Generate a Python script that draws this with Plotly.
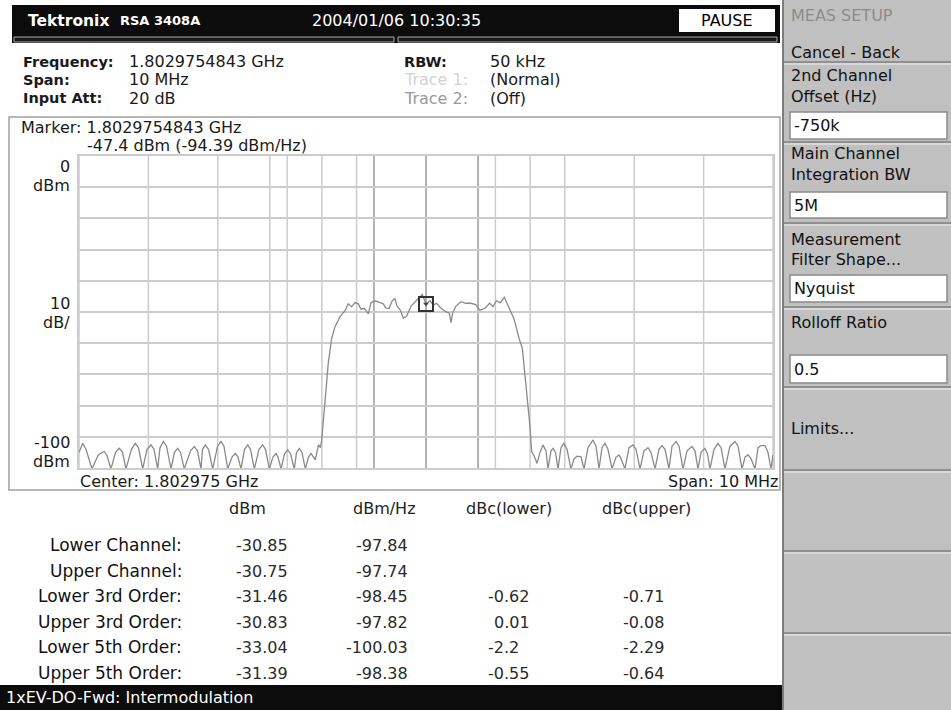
import plotly.graph_objects as go

W, H = 951, 710

# ---------------- data ----------------
center_ghz = 1.802975
span_mhz = 10
ref_level_dbm = 0
bottom_level_dbm = -100

freq_offset_mhz = [
    -5.000, -4.947, -4.899, -4.813,
    -4.726, -4.683, -4.635, -4.597, -4.539,
    -4.474, -4.419, -4.373, -4.323,
    -4.244, -4.189, -4.143, -4.082,
    -4.020, -3.963, -3.919, -3.866,
    -3.833, -3.785, -3.739, -3.674,
    -3.624, -3.578, -3.537, -3.483,
    -3.393, -3.339, -3.293, -3.242,
    -3.220, -3.180, -3.134, -3.073,
    -3.004, -2.954, -2.911, -2.857,
    -2.795, -2.748, -2.709, -2.666,
    -2.615, -2.569, -2.529, -2.474,
    -2.406, -2.353, -2.313, -2.258,
    -2.205, -2.161, -2.133, -2.089,
    -2.039, -1.993, -1.952, -1.898,
    -1.866, -1.826, -1.787, -1.739,
    -1.693, -1.657, -1.628, -1.595,
    -1.549, -1.520,
    -1.503, -1.480, -1.455, -1.431, -1.408, -1.359, -1.311, -1.239, -1.167, -1.120,
    -1.071, -1.023, -0.976, -0.937, -0.889, -0.854, -0.831, -0.793, -0.735, -0.663,
    -0.615, -0.581, -0.533, -0.486, -0.447, -0.418, -0.370, -0.327, -0.278, -0.216,
    -0.159, -0.101, -0.053, 0.000, 0.058, 0.105, 0.154, 0.216, 0.284, 0.336,
    0.360, 0.385, 0.432, 0.504, 0.572, 0.648, 0.716, 0.778, 0.850, 0.918,
    0.965, 1.013, 1.071, 1.128, 1.167, 1.215, 1.264, 1.293, 1.340, 1.388,
    1.427, 1.465, 1.494, 1.523,
    1.556, 1.599, 1.643, 1.686, 1.729, 1.758,
    1.801, 1.830, 1.866, 1.902,
    1.945, 1.988, 2.032, 2.089,
    2.133, 2.176, 2.233, 2.277,
    2.334, 2.406, 2.450, 2.493,
    2.536, 2.579, 2.622, 2.680,
    2.738, 2.781, 2.810, 2.867,
    2.925, 2.983, 3.026, 3.084,
    3.141, 3.199, 3.242, 3.300,
    3.357, 3.401, 3.444, 3.501,
    3.545, 3.602, 3.646, 3.703,
    3.761, 3.833, 3.876, 3.919,
    3.963, 4.020, 4.056, 4.092,
    4.150, 4.207, 4.251, 4.308,
    4.380, 4.452, 4.496, 4.553,
    4.597, 4.640, 4.683, 4.741,
    4.784, 4.827, 4.885, 4.928, 4.971, 5.000,
]

level_dbm = [
    -95.0, -92.1, -94.0, -100.3,
    -96.0, -95.2, -94.7, -96.0, -100.3,
    -95.0, -93.7, -95.0, -100.3,
    -94.0, -92.1, -93.5, -100.3,
    -94.0, -92.6, -94.0, -100.3,
    -93.5, -91.5, -93.0, -100.3,
    -95.0, -93.7, -95.0, -100.3,
    -94.5, -93.1, -94.5, -100.3,
    -94.0, -92.6, -94.0, -100.3,
    -93.0, -91.5, -93.0, -100.3,
    -96.5, -95.3, -96.5, -100.3,
    -94.0, -92.6, -94.0, -100.3,
    -94.0, -92.6, -94.0, -100.3,
    -96.5, -95.3, -96.5, -100.3,
    -95.5, -94.2, -95.5, -100.3,
    -95.0, -93.7, -95.0, -100.3,
    -96.5, -95.3, -96.5, -97.4,
    -92.5, -93.5,
    -91.0, -84.6, -77.1, -70.7, -66.4, -58.4, -54.7, -51.5, -49.6, -47.4,
    -48.3, -47.0, -47.4, -49.1, -48.8, -49.9, -50.6, -47.0, -46.4, -47.0,
    -47.4, -48.7, -48.9, -46.4, -45.7, -48.1, -49.4, -52.0, -51.3, -48.1,
    -46.7, -45.6, -44.4, -47.4, -46.4, -47.8, -47.2, -48.8, -49.9, -50.4,
    -53.4, -50.2, -48.1, -46.7, -47.2, -47.2, -47.6, -49.4, -48.8, -47.2,
    -48.3, -46.4, -47.0, -45.3, -47.2, -49.9, -52.0, -54.2, -58.4, -61.6,
    -69.7, -78.2, -85.7, -94.8,
    -96.0, -98.5, -95.0, -92.6, -94.5, -100.3,
    -94.5, -93.7, -95.0, -100.3,
    -93.5, -92.1, -94.0, -100.3,
    -97.0, -96.2, -96.4, -100.3,
    -93.5, -91.0, -93.0, -100.3,
    -93.5, -92.1, -94.0, -100.3,
    -96.5, -95.8, -97.0, -100.3,
    -93.5, -92.6, -94.0, -100.3,
    -94.5, -93.5, -95.0, -100.3,
    -94.0, -92.8, -94.0, -100.3,
    -93.0, -91.5, -93.0, -100.3,
    -94.5, -93.1, -94.5, -100.3,
    -95.0, -93.7, -95.5, -100.3,
    -94.0, -92.1, -93.5, -100.3,
    -93.0, -91.5, -93.0, -100.3,
    -96.5, -95.8, -97.0, -100.3,
    -93.5, -92.8, -92.8, -95.0, -100.3, -95.8,
]
assert len(freq_offset_mhz) == len(level_dbm), (len(freq_offset_mhz), len(level_dbm))

marker_offset_mhz = [0.0]
marker_level_dbm = [-47.4]

grid_lines_mhz = [-5, -4, -3, -2, -1, 0, 1, 2, 3, 4, 5]
channel_lines_mhz = [-2.25, -1.5, -0.75, 0.75, 1.5]
strong_lines_mhz = [-0.75, 0.0, 0.75]

row_labels = ["Lower Channel:", "Upper Channel:", "Lower 3rd Order:",
              "Upper 3rd Order:", "Lower 5th Order:", "Upper 5th Order:"]
col_headers = ["dBm", "dBm/Hz", "dBc(lower)", "dBc(upper)"]
val_dbm = ["-30.85", "-30.75", "-31.46", "-30.83", "-33.04", "-31.39"]
val_dbm_hz = ["-97.84", "-97.74", "-98.45", "-97.82", "-100.03", "-98.38"]
val_dbc_lower = ["", "", "-0.62", "0.01", "-2.2", "-0.55"]
val_dbc_upper = ["", "", "-0.71", "-0.08", "-2.29", "-0.64"]

menu_title = "MEAS SETUP"
menu_items = [
    (["Cancel - Back"], None),
    (["2nd Channel", "Offset (Hz)"], "-750k"),
    (["Main Channel", "Integration BW"], "5M"),
    (["Measurement", "Filter Shape..."], "Nyquist"),
    (["Rolloff Ratio"], "0.5"),
    (["Limits..."], None),
]

# ---------------- helpers ----------------
FONT = "DejaVu Sans"


def X(px):
    return px / W


def Y(py):
    return 1 - py / H


shapes = []
annotations = []


def rect(x0, y0, x1, y1, fill=None, line=None, lw=1.0):
    shapes.append(dict(type="rect", xref="paper", yref="paper",
                       x0=X(x0), x1=X(x1), y0=Y(y1), y1=Y(y0),
                       fillcolor=fill if fill else "rgba(0,0,0,0)",
                       line=dict(color=line if line else "rgba(0,0,0,0)",
                                 width=lw if line else 0),
                       layer="above"))


def hline(x0, x1, y, color, lw=1.0):
    shapes.append(dict(type="line", xref="paper", yref="paper",
                       x0=X(x0), x1=X(x1), y0=Y(y), y1=Y(y),
                       line=dict(color=color, width=lw), layer="above"))


def vline(x, y0, y1, color, lw=1.0):
    shapes.append(dict(type="line", xref="paper", yref="paper",
                       x0=X(x), x1=X(x), y0=Y(y0), y1=Y(y1),
                       line=dict(color=color, width=lw), layer="above"))


def txt(x, y, s, size=16, color="#1a1a1a", anchor="left", bold=False, family=FONT):
    annotations.append(dict(xref="paper", yref="paper", x=X(x), y=Y(y),
                            text=("<b>%s</b>" % s) if bold else s,
                            showarrow=False, xanchor=anchor, yanchor="middle",
                            align=anchor, borderpad=0,
                            font=dict(family=family, size=size, color=color)))


# ---------------- figure ----------------
fig = go.Figure()

fig.add_trace(go.Scatter(
    x=freq_offset_mhz, y=level_dbm, mode="lines",
    line=dict(color="#8a8a8a", width=1.3), hoverinfo="skip"))

fig.add_trace(go.Scatter(
    x=marker_offset_mhz, y=marker_level_dbm, mode="markers",
    marker=dict(symbol="square-open", size=14, color="#333333",
                line=dict(width=2, color="#333333")), hoverinfo="skip"))
fig.add_trace(go.Scatter(
    x=marker_offset_mhz, y=marker_level_dbm, mode="markers",
    marker=dict(symbol="triangle-down", size=5, color="#444444"), hoverinfo="skip"))

# vertical grid + channel lines inside plot (below traces)
for f in grid_lines_mhz + channel_lines_mhz:
    strong = f in strong_lines_mhz
    shapes.append(dict(type="line", xref="x", yref="y domain", x0=f, x1=f, y0=0, y1=1,
                       line=dict(color="#ababab" if strong else "#cccccc",
                                 width=1.8 if strong else 1.5),
                       layer="below"))

# header bar
rect(12, 5, 780, 43, fill="#0c0c0c")
rect(14, 37, 394, 42, fill="#1a1a1a", line="#a8a8a8", lw=1)
rect(398, 37, 777, 42, fill="#1a1a1a", line="#a8a8a8", lw=1)
rect(679, 9, 775, 32, fill="#ffffff")
txt(27, 21, "Tektronix", size=15.5, color="#ffffff", bold=True)
txt(119, 21, "RSA 3408A", size=13, color="#ffffff", bold=True)
txt(311, 21, "2004/01/06 10:30:35", size=16, color="#ffffff")
txt(727, 21, "PAUSE", size=16, color="#000000", anchor="center")

# info area
txt(22, 62, "Frequency:", size=14.5, bold=True)
txt(128, 62, "%.10f GHz" % 1.8029754843, size=16)
txt(22, 80, "Span:", size=14.5, bold=True)
txt(128, 80, "%d MHz" % span_mhz, size=16)
txt(22, 98, "Input Att:", size=14.5, bold=True)
txt(128, 98, "20 dB", size=16)
txt(403, 62, "RBW:", size=14.5, bold=True)
txt(489, 62, "50 kHz", size=16)
txt(403, 80, "Trace 1:", size=16, color="#d2d2d2")
txt(489, 80, "(Normal)", size=16)
txt(403, 98, "Trace 2:", size=16, color="#9a9a9a")
txt(489, 98, "(Off)", size=16)

# plot box
rect(9, 117, 780, 490, line="#a0a0a0", lw=1.5)
txt(20, 128, "Marker: 1.8029754843 GHz", size=16)
txt(86, 146, "%.1f dBm (-94.39 dBm/Hz)" % marker_level_dbm[0], size=16)
txt(71, 166, "%d" % ref_level_dbm, size=16, anchor="right")
txt(71, 185, "dBm", size=16, anchor="right")
txt(71, 303, "10", size=16, anchor="right")
txt(71, 322, "dB/", size=16, anchor="right")
txt(71, 443, "%d" % bottom_level_dbm, size=16, anchor="right")
txt(71, 461, "dBm", size=16, anchor="right")
txt(79, 481, "Center: %s GHz" % ("%.6f" % center_ghz), size=16)
txt(779, 481, "Span: %d MHz" % span_mhz, size=16, anchor="right")

# table
hdr_x = [247, 384, 509, 646]
for hx, h in zip(hdr_x, col_headers):
    txt(hx, 508, h, size=16, color="#222222", anchor="center")
row_y = [545, 571, 596, 622, 647, 673]
for i, ry in enumerate(row_y):
    txt(183, ry, row_labels[i], size=17, color="#111111", anchor="right")
    txt(289, ry, val_dbm[i], size=16, color="#2a2a2a", anchor="right")
    txt(409, ry, val_dbm_hz[i], size=16, color="#2a2a2a", anchor="right")
    if val_dbc_lower[i]:
        v = val_dbc_lower[i]
        txt(487 if v.startswith("-") else 493, ry, v, size=16, color="#2a2a2a")
    if val_dbc_upper[i]:
        v = val_dbc_upper[i]
        txt(622 if v.startswith("-") else 628, ry, v, size=16, color="#2a2a2a")

# bottom status bar
rect(0, 685, 783, 710, fill="#0c0c0c")
txt(5, 697, "1xEV-DO-Fwd: Intermodulation", size=16, color="#ffffff")

# right panel
rect(782, 0, 951, 710, fill="#c0c0c0")
vline(783, 0, 710, "#7c7c7c", 2)
txt(790, 16, menu_title, size=16, color="#8c8c8c")
seps = [62, 142, 223, 307, 387, 470, 551, 633]
for sy in seps:
    hline(784, 951, sy, "#7f7f7f", 1.5)
    hline(784, 951, sy + 2, "#f0f0f0", 1)

label_y = [[52], [76, 96], [154, 174], [239, 260], [322], [428]]
box_y = [None, (112, 139), (192, 218), (275, 302), (355, 383), None]
for (labels, value), ly, by in zip(menu_items, label_y, box_y):
    for lab, yy in zip(labels, ly):
        txt(790, yy, lab, size=16, color="#111111")
    if value is not None:
        rect(790, by[0], 947, by[1], fill="#ffffff", line="#8a8a8a", lw=1.5)
        txt(793, (by[0] + by[1]) / 2, value, size=16, color="#111111")

x0d, x1d = 79 / W, 773 / W
y0d, y1d = 1 - 468 / H, 1 - 156 / H

fig.update_layout(
    width=W, height=H, autosize=False,
    margin=dict(l=0, r=0, t=0, b=0, pad=0),
    paper_bgcolor="#ffffff", plot_bgcolor="#ffffff",
    showlegend=False,
    xaxis=dict(domain=[x0d, x1d], range=[-span_mhz / 2, span_mhz / 2],
               showticklabels=False, ticks="", showgrid=False,
               zeroline=False, showline=True, linecolor="#cccccc",
               linewidth=1.5, mirror=True, fixedrange=True),
    yaxis=dict(domain=[y0d, y1d], range=[bottom_level_dbm, ref_level_dbm],
               dtick=10, showticklabels=False, ticks="",
               showgrid=True, gridcolor="#cccccc", gridwidth=1.5,
               zeroline=False, showline=True, linecolor="#cccccc",
               linewidth=1.5, mirror=True, fixedrange=True),
    shapes=shapes,
    annotations=annotations,
)

fig.write_html(
    "out.html",
    config={"displayModeBar": False},
    post_script="document.body.style.margin='0';document.body.style.overflow='hidden';",
)
